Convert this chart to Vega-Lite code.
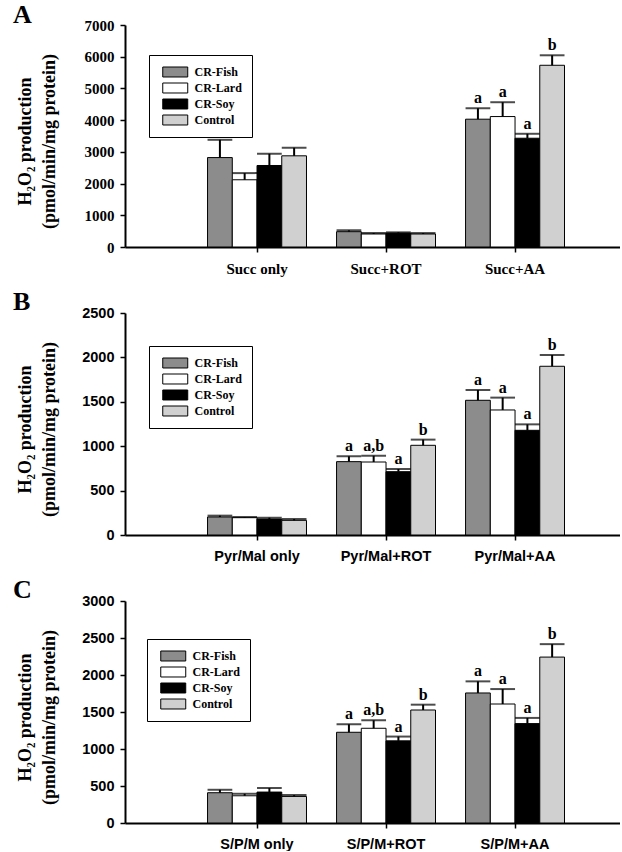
{
  "$schema": "https://vega.github.io/schema/vega-lite/v6.json",
  "padding": {"left": 13, "top": 2, "right": 0, "bottom": 0},
  "background": "white",
  "config": {
    "view": {"stroke": null},
    "axis": {"domainColor": "black", "tickColor": "black", "labelColor": "black", "titleColor": "black", "grid": false, "domainWidth": 2, "tickWidth": 1.5, "tickSize": 5},
    "legend": {"orient": "none", "title": null, "strokeColor": "black", "fillColor": "white", "padding": 10,
               "symbolType": "M-2,-0.8H2V0.8H-2Z", "symbolSize": 156, "symbolStrokeColor": "black", "symbolStrokeWidth": 1, "symbolOpacity": 1, "symbolOffset": 9.25,
               "labelFont": "Liberation Serif", "labelFontWeight": "bold", "labelFontSize": 12, "labelColor": "black", "rowPadding": 2, "labelOffset": 12.25},
    "tick": {"bandSize": 12}
  },
  "datasets": {
    "h2o2": [
      {"panel": "A", "group": "Succ only", "diet": "CR-Fish", "value": 2820, "upper": 3380, "sig": ""},
      {"panel": "A", "group": "Succ only", "diet": "CR-Lard", "value": 2120, "upper": 2330, "sig": ""},
      {"panel": "A", "group": "Succ only", "diet": "CR-Soy", "value": 2570, "upper": 2940, "sig": ""},
      {"panel": "A", "group": "Succ only", "diet": "Control", "value": 2875, "upper": 3130, "sig": ""},
      {"panel": "A", "group": "Succ+ROT", "diet": "CR-Fish", "value": 483, "upper": 525, "sig": ""},
      {"panel": "A", "group": "Succ+ROT", "diet": "CR-Lard", "value": 410, "upper": 440, "sig": ""},
      {"panel": "A", "group": "Succ+ROT", "diet": "CR-Soy", "value": 440, "upper": 462, "sig": ""},
      {"panel": "A", "group": "Succ+ROT", "diet": "Control", "value": 410, "upper": 440, "sig": ""},
      {"panel": "A", "group": "Succ+AA", "diet": "CR-Fish", "value": 4030, "upper": 4375, "sig": "a"},
      {"panel": "A", "group": "Succ+AA", "diet": "CR-Lard", "value": 4113, "upper": 4565, "sig": "a"},
      {"panel": "A", "group": "Succ+AA", "diet": "CR-Soy", "value": 3430, "upper": 3570, "sig": "a"},
      {"panel": "A", "group": "Succ+AA", "diet": "Control", "value": 5730, "upper": 6045, "sig": "b"},
      {"panel": "B", "group": "Pyr/Mal only", "diet": "CR-Fish", "value": 203, "upper": 218, "sig": ""},
      {"panel": "B", "group": "Pyr/Mal only", "diet": "CR-Lard", "value": 195, "upper": 203, "sig": ""},
      {"panel": "B", "group": "Pyr/Mal only", "diet": "CR-Soy", "value": 180, "upper": 195, "sig": ""},
      {"panel": "B", "group": "Pyr/Mal only", "diet": "Control", "value": 165, "upper": 180, "sig": ""},
      {"panel": "B", "group": "Pyr/Mal+ROT", "diet": "CR-Fish", "value": 826, "upper": 886, "sig": "a"},
      {"panel": "B", "group": "Pyr/Mal+ROT", "diet": "CR-Lard", "value": 822, "upper": 893, "sig": "a,b"},
      {"panel": "B", "group": "Pyr/Mal+ROT", "diet": "CR-Soy", "value": 713, "upper": 743, "sig": "a"},
      {"panel": "B", "group": "Pyr/Mal+ROT", "diet": "Control", "value": 1010, "upper": 1074, "sig": "b"},
      {"panel": "B", "group": "Pyr/Mal+AA", "diet": "CR-Fish", "value": 1517, "upper": 1633, "sig": "a"},
      {"panel": "B", "group": "Pyr/Mal+AA", "diet": "CR-Lard", "value": 1408, "upper": 1547, "sig": "a"},
      {"panel": "B", "group": "Pyr/Mal+AA", "diet": "CR-Soy", "value": 1179, "upper": 1246, "sig": "a"},
      {"panel": "B", "group": "Pyr/Mal+AA", "diet": "Control", "value": 1900, "upper": 2027, "sig": "b"},
      {"panel": "C", "group": "S/P/M only", "diet": "CR-Fish", "value": 409, "upper": 449, "sig": ""},
      {"panel": "C", "group": "S/P/M only", "diet": "CR-Lard", "value": 368, "upper": 395, "sig": ""},
      {"panel": "C", "group": "S/P/M only", "diet": "CR-Soy", "value": 418, "upper": 472, "sig": ""},
      {"panel": "C", "group": "S/P/M only", "diet": "Control", "value": 359, "upper": 377, "sig": ""},
      {"panel": "C", "group": "S/P/M+ROT", "diet": "CR-Fish", "value": 1226, "upper": 1334, "sig": "a"},
      {"panel": "C", "group": "S/P/M+ROT", "diet": "CR-Lard", "value": 1280, "upper": 1388, "sig": "a,b"},
      {"panel": "C", "group": "S/P/M+ROT", "diet": "CR-Soy", "value": 1110, "upper": 1168, "sig": "a"},
      {"panel": "C", "group": "S/P/M+ROT", "diet": "Control", "value": 1527, "upper": 1599, "sig": "b"},
      {"panel": "C", "group": "S/P/M+AA", "diet": "CR-Fish", "value": 1757, "upper": 1914, "sig": "a"},
      {"panel": "C", "group": "S/P/M+AA", "diet": "CR-Lard", "value": 1608, "upper": 1810, "sig": "a"},
      {"panel": "C", "group": "S/P/M+AA", "diet": "CR-Soy", "value": 1343, "upper": 1420, "sig": "a"},
      {"panel": "C", "group": "S/P/M+AA", "diet": "Control", "value": 2242, "upper": 2417, "sig": "b"}
    ]
  },
  "data": {"name": "h2o2"},
  "vconcat": [
    {
      "width": 495, "height": 222,
      "title": {"text": "A", "anchor": "start", "frame": "group", "font": "Liberation Serif", "fontWeight": "bold", "fontSize": 26, "color": "black", "dx": -112, "offset": -10},
      "transform": [{"filter": "datum.panel === 'A'"}],
      "encoding": {
        "x": {"field": "group", "type": "nominal", "sort": ["Succ only", "Succ+ROT", "Succ+AA"],
              "scale": {"paddingInner": 0.233, "paddingOuter": 0.535, "align": 0.598},
              "axis": {"title": null, "labelAngle": 0, "labelFont": "Liberation Serif", "labelFontWeight": "bold", "labelFontSize": 15, "labelPadding": 9}},
        "xOffset": {"field": "diet", "type": "nominal", "sort": ["CR-Fish", "CR-Lard", "CR-Soy", "Control"]},
        "y": {"field": "value", "type": "quantitative", "scale": {"domain": [0, 7000], "nice": false},
              "axis": {"title": ["H₂O₂ production", "(pmol/min/mg protein)"], "titleFont": "Liberation Serif", "titleFontWeight": "bold", "titleFontSize": 18, "titleLineHeight": 24, "titleX": -91, "titleY": 116,
                       "values": [0, 1000, 2000, 3000, 4000, 5000, 6000, 7000], "format": "d", "labelFont": "Liberation Serif", "labelFontWeight": "bold", "labelFontSize": 15, "labelPadding": 6}}
      },
      "layer": [
        {"mark": {"type": "bar", "stroke": "black", "strokeWidth": 1},
         "encoding": {"fill": {"field": "diet", "type": "nominal",
           "scale": {"domain": ["CR-Fish", "CR-Lard", "CR-Soy", "Control"], "range": ["#8c8c8c", "#ffffff", "#000000", "#d0d0d0"]},
           "legend": {"legendX": 24, "legendY": 30}}}},
        {"mark": {"type": "rule", "color": "black", "strokeWidth": 2}, "encoding": {"y2": {"field": "upper"}}},
        {"mark": {"type": "tick", "color": "black", "thickness": 2}, "encoding": {"y": {"field": "upper", "type": "quantitative"}}},
        {"mark": {"type": "text", "font": "Liberation Serif", "fontWeight": "bold", "fontSize": 16, "baseline": "alphabetic", "dy": -5, "color": "black"},
         "encoding": {"y": {"field": "upper", "type": "quantitative"}, "text": {"field": "sig"}}}
      ]
    },
    {
      "width": 495, "height": 222,
      "title": {"text": "B", "anchor": "start", "frame": "group", "font": "Liberation Serif", "fontWeight": "bold", "fontSize": 26, "color": "black", "dx": -112, "offset": -10},
      "transform": [{"filter": "datum.panel === 'B'"}],
      "encoding": {
        "x": {"field": "group", "type": "nominal", "sort": ["Pyr/Mal only", "Pyr/Mal+ROT", "Pyr/Mal+AA"],
              "scale": {"paddingInner": 0.233, "paddingOuter": 0.535, "align": 0.598},
              "axis": {"title": null, "labelAngle": 0, "labelFont": "Liberation Sans", "labelFontWeight": "bold", "labelFontSize": 14.5, "labelPadding": 9}},
        "xOffset": {"field": "diet", "type": "nominal", "sort": ["CR-Fish", "CR-Lard", "CR-Soy", "Control"]},
        "y": {"field": "value", "type": "quantitative", "scale": {"domain": [0, 2500], "nice": false},
              "axis": {"title": ["H₂O₂ production", "(pmol/min/mg protein)"], "titleFont": "Liberation Serif", "titleFontWeight": "bold", "titleFontSize": 18, "titleLineHeight": 24, "titleX": -91, "titleY": 116,
                       "values": [0, 500, 1000, 1500, 2000, 2500], "format": "d", "labelFont": "Liberation Sans", "labelFontWeight": "bold", "labelFontSize": 14.5, "labelPadding": 6}}
      },
      "layer": [
        {"mark": {"type": "bar", "stroke": "black", "strokeWidth": 1},
         "encoding": {"fill": {"field": "diet", "type": "nominal",
           "scale": {"domain": ["CR-Fish", "CR-Lard", "CR-Soy", "Control"], "range": ["#8c8c8c", "#ffffff", "#000000", "#d0d0d0"]},
           "legend": {"legendX": 24, "legendY": 33}}}},
        {"mark": {"type": "rule", "color": "black", "strokeWidth": 2}, "encoding": {"y2": {"field": "upper"}}},
        {"mark": {"type": "tick", "color": "black", "thickness": 2}, "encoding": {"y": {"field": "upper", "type": "quantitative"}}},
        {"mark": {"type": "text", "font": "Liberation Serif", "fontWeight": "bold", "fontSize": 16, "baseline": "alphabetic", "dy": -5, "color": "black"},
         "encoding": {"y": {"field": "upper", "type": "quantitative"}, "text": {"field": "sig"}}}
      ]
    },
    {
      "width": 495, "height": 222,
      "title": {"text": "C", "anchor": "start", "frame": "group", "font": "Liberation Serif", "fontWeight": "bold", "fontSize": 26, "color": "black", "dx": -112, "offset": -10},
      "transform": [{"filter": "datum.panel === 'C'"}],
      "encoding": {
        "x": {"field": "group", "type": "nominal", "sort": ["S/P/M only", "S/P/M+ROT", "S/P/M+AA"],
              "scale": {"paddingInner": 0.233, "paddingOuter": 0.535, "align": 0.598},
              "axis": {"title": null, "labelAngle": 0, "labelFont": "Liberation Sans", "labelFontWeight": "bold", "labelFontSize": 14.5, "labelPadding": 9}},
        "xOffset": {"field": "diet", "type": "nominal", "sort": ["CR-Fish", "CR-Lard", "CR-Soy", "Control"]},
        "y": {"field": "value", "type": "quantitative", "scale": {"domain": [0, 3000], "nice": false},
              "axis": {"title": ["H₂O₂ production", "(pmol/min/mg protein)"], "titleFont": "Liberation Serif", "titleFontWeight": "bold", "titleFontSize": 18, "titleLineHeight": 24, "titleX": -91, "titleY": 116,
                       "values": [0, 500, 1000, 1500, 2000, 2500, 3000], "format": "d", "labelFont": "Liberation Sans", "labelFontWeight": "bold", "labelFontSize": 14.5, "labelPadding": 6}}
      },
      "layer": [
        {"mark": {"type": "bar", "stroke": "black", "strokeWidth": 1},
         "encoding": {"fill": {"field": "diet", "type": "nominal",
           "scale": {"domain": ["CR-Fish", "CR-Lard", "CR-Soy", "Control"], "range": ["#8c8c8c", "#ffffff", "#000000", "#d0d0d0"]},
           "legend": {"legendX": 22, "legendY": 38}}}},
        {"mark": {"type": "rule", "color": "black", "strokeWidth": 2}, "encoding": {"y2": {"field": "upper"}}},
        {"mark": {"type": "tick", "color": "black", "thickness": 2}, "encoding": {"y": {"field": "upper", "type": "quantitative"}}},
        {"mark": {"type": "text", "font": "Liberation Serif", "fontWeight": "bold", "fontSize": 16, "baseline": "alphabetic", "dy": -5, "color": "black"},
         "encoding": {"y": {"field": "upper", "type": "quantitative"}, "text": {"field": "sig"}}}
      ]
    }
  ],
  "spacing": 66,
  "bounds": "flush",
  "resolve": {"scale": {"fill": "independent", "xOffset": "independent"}, "legend": {"fill": "independent"}}
}
